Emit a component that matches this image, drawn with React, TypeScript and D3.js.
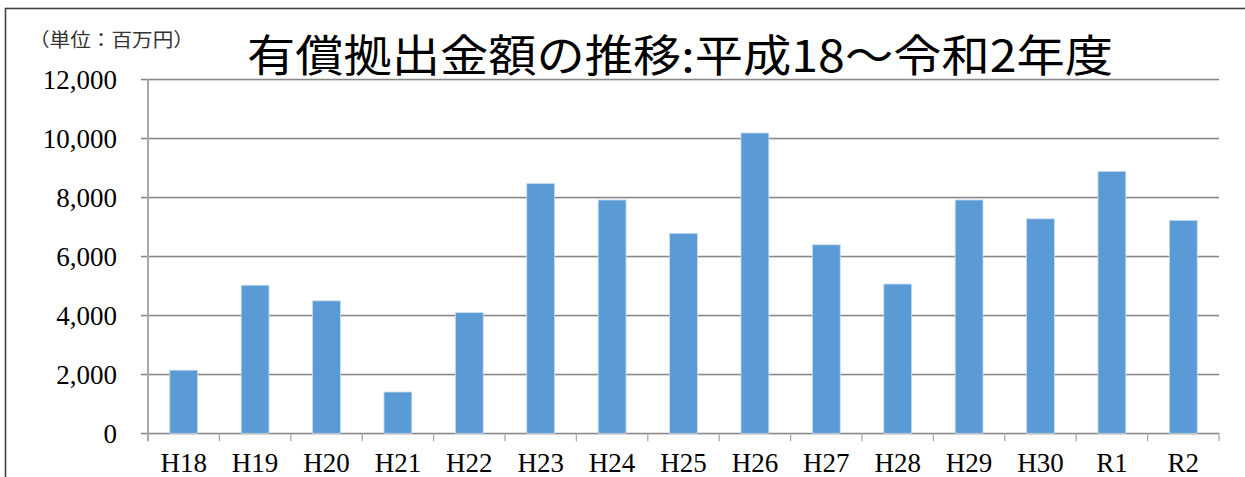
import React from "react";
import * as d3 from "d3";

const categories = ["H18", "H19", "H20", "H21", "H22", "H23", "H24", "H25", "H26", "H27", "H28", "H29", "H30", "R1", "R2"];
const values = [2140, 5020, 4490, 1400, 4090, 8470, 7910, 6780, 10180, 6390, 5060, 7910, 7270, 8880, 7220];
const yTicks = [0, 2000, 4000, 6000, 8000, 10000, 12000];
const titleText = "有償拠出金額の推移:平成18～令和2年度";
const unitText = "（単位：百万円）";

const W = 1245;
const H = 477;
const left = 148;
const right = 1219;
const top = 79.3;
const bottom = 433.3;

export default function App() {
  const x = d3.scaleBand<string>().domain(categories).range([left, right]).padding(0);
  const y = d3.scaleLinear().domain([0, 12000]).range([bottom, top]);
  const bw = x.bandwidth() * 0.39;
  const fmt = d3.format(",");
  const serif = "'Liberation Serif', 'Noto Sans CJK JP', serif";

  return (
    <svg width={W} height={H} style={{ position: "absolute", left: 0, top: 0, background: "#fff" }}>
      <rect x={0} y={0} width={W} height={H} fill="#fff" />
      <rect x={5.5} y={8.5} width={1300} height={600} fill="none" stroke="#404040" strokeWidth={1.6} />
      {/* gridlines */}
      {yTicks.map((t) => (
        <g key={t}>
          <line x1={left - 7} x2={right} y1={y(t) + 1.2} y2={y(t) + 1.2} stroke="#d6d6d6" strokeWidth={1} />
          <line x1={left - 7} x2={right} y1={y(t)} y2={y(t)} stroke="#888" strokeWidth={1.3} />
        </g>
      ))}
      {/* y axis */}
      <line x1={left} x2={left} y1={top} y2={bottom + 8} stroke="#a8a8a8" strokeWidth={2} />
      {/* x ticks */}
      {categories.map((c) => (
        <line key={"t" + c} x1={x(c)!} x2={x(c)!} y1={bottom} y2={bottom + 8} stroke="#a8a8a8" strokeWidth={1.3} />
      ))}
      <line x1={right} x2={right} y1={bottom} y2={bottom + 8} stroke="#a8a8a8" strokeWidth={1.3} />
      {/* bars */}
      {categories.map((c, i) => {
        const cx = x(c)! + x.bandwidth() / 2;
        return (
          <rect
            key={"b" + c}
            x={cx - bw / 2}
            y={y(values[i])}
            width={bw}
            height={y(0) - y(values[i])}
            fill="#5B9BD5"
            stroke="#c9dcf0"
            strokeWidth={0.8}
          />
        );
      })}
      {/* y labels */}
      {yTicks.map((t) => (
        <text
          key={"l" + t}
          x={117}
          y={y(t)}
          dy="0.35em"
          textAnchor="end"
          fontFamily={serif}
          fontSize={27}
          fill="#000"
        >
          {fmt(t)}
        </text>
      ))}
      {/* x labels */}
      {categories.map((c) => (
        <text
          key={"x" + c}
          x={x(c)! + x.bandwidth() / 2}
          y={472}
          textAnchor="middle"
          fontFamily={serif}
          fontSize={27}
          fill="#000"
        >
          {c}
        </text>
      ))}
      {/* unit label */}
      <text x={29} y={47} fontFamily={serif} fontSize={19} fill="#333" textLength={165} lengthAdjust="spacingAndGlyphs">
        {unitText}
      </text>
      {/* title */}
      <text
        x={247}
        y={72}
        fontFamily="'Noto Sans CJK JP', sans-serif"
        fontSize={44}
        fill="#000"
        textLength={866}
        lengthAdjust="spacingAndGlyphs"
      >
        {titleText}
      </text>
    </svg>
  );
}
